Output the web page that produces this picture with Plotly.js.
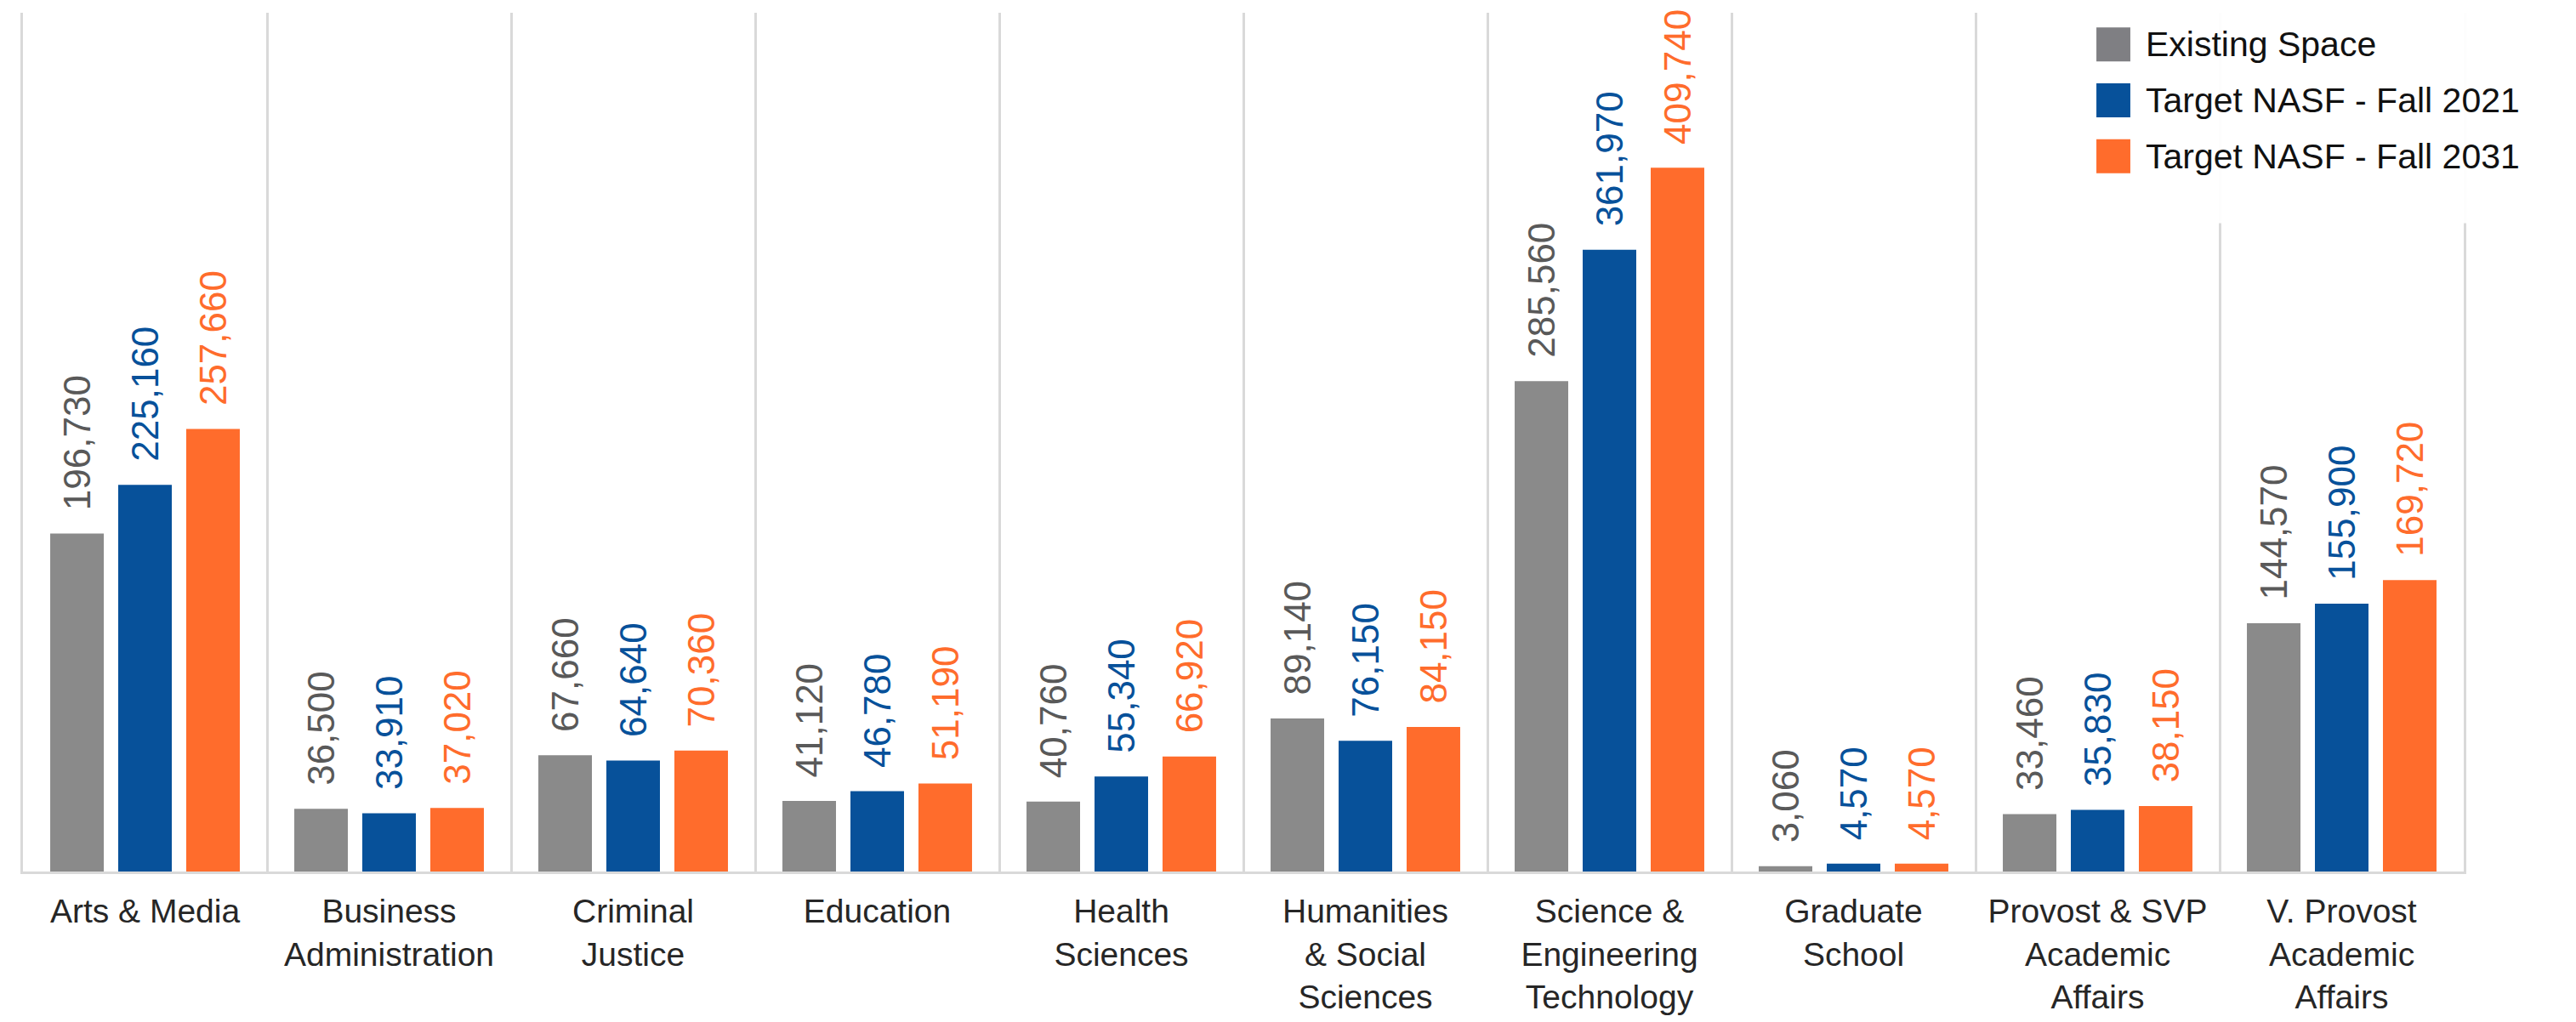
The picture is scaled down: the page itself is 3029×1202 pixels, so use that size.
<!DOCTYPE html>
<html>
<head>
<meta charset="utf-8">
<script src="https://cdn.plot.ly/plotly-3.0.1.min.js"></script>
<style>
  html, body { margin: 0; padding: 0; background: #ffffff; }
  #chart { width: 3029px; height: 1202px; }
</style>
</head>
<body>
<div id="chart"></div>
<script>
const categories = [
  "Arts & Media",
  "Business<br>Administration",
  "Criminal<br>Justice",
  "Education",
  "Health<br>Sciences",
  "Humanities<br>& Social<br>Sciences",
  "Science &<br>Engineering<br>Technology",
  "Graduate<br>School",
  "Provost & SVP<br>Academic<br>Affairs",
  "V. Provost<br>Academic<br>Affairs"
];
const seriesNames = ["Existing Space", "Target NASF - Fall 2021", "Target NASF - Fall 2031"];
const existingSpace = [196730, 36500, 67660, 41120, 40760, 89140, 285560, 3060, 33460, 144570];
const target2021 = [225160, 33910, 64640, 46780, 55340, 76150, 361970, 4570, 35830, 155900];
const target2031 = [257660, 37020, 70360, 51190, 66920, 84150, 409740, 4570, 38150, 169720];

const barColors = ["#8a8a8a", "#07519a", "#ff6c2c"];
const labelColors = ["#595959", "#07519a", "#ff6c2c"];
const seriesValues = [existingSpace, target2021, target2031];

const labelFont = "Liberation Sans, Arial, sans-serif";

const traces = seriesValues.map((vals, i) => ({
  type: "bar",
  name: seriesNames[i],
  x: categories,
  y: vals,
  marker: { color: barColors[i] },
  texttemplate: "\u00a0\u00a0%{y:,}",
  textposition: "outside",
  textangle: -90,
  constraintext: "none",
  cliponaxis: false,
  textfont: { family: labelFont, size: 44, color: labelColors[i] },
  showlegend: false,
  hoverinfo: "skip"
}));

// custom legend (swatches + labels) in paper coordinates
const shapes = [{
  type: "rect", xref: "paper", yref: "paper", layer: "above",
  x0: 0.841, x1: 1.035, y0: 0.755, y1: 1.0,
  fillcolor: "rgba(255,255,255,0.93)", line: { width: 0 }
}];
const annotations = [];
const rowY = [0.963, 0.898, 0.833];
seriesNames.forEach((name, i) => {
  shapes.push({
    type: "rect", xref: "paper", yref: "paper", layer: "above",
    x0: 0.8495, x1: 0.8634, y0: rowY[i] - 0.0198, y1: rowY[i] + 0.0198,
    fillcolor: i === 0 ? "#7f7f83" : barColors[i], line: { width: 0 }
  });
  annotations.push({
    xref: "paper", yref: "paper", x: 0.869, y: rowY[i],
    xanchor: "left", yanchor: "middle", showarrow: false,
    text: name,
    font: { family: "Liberation Sans, Arial, sans-serif", size: 41, color: "#111111" }
  });
});

const layout = {
  width: 3029,
  height: 1202,
  paper_bgcolor: "#ffffff",
  plot_bgcolor: "#ffffff",
  margin: { l: 27, r: 132, t: 15, b: 177 },
  barmode: "group",
  bargap: 0.164,
  bargroupgap: 0.2125,
  showlegend: false,
  xaxis: {
    type: "category",
    tickson: "boundaries",
    showgrid: true,
    gridcolor: "#d9d9d9",
    gridwidth: 3,
    showline: true,
    linecolor: "#d9d9d9",
    linewidth: 3,
    ticks: "",
    ticklabelstandoff: 10,
    tickfont: { family: "Liberation Sans, Arial, sans-serif", size: 39, color: "#262626" },
    fixedrange: true
  },
  yaxis: {
    range: [0, 500000],
    showgrid: false,
    zeroline: false,
    showticklabels: false,
    ticks: "",
    showline: true,
    mirror: true,
    linecolor: "#d9d9d9",
    linewidth: 3,
    fixedrange: true
  },
  shapes: shapes,
  annotations: annotations
};

Plotly.newPlot("chart", traces, layout, { staticPlot: true, displayModeBar: false });
</script>
</body>
</html>
